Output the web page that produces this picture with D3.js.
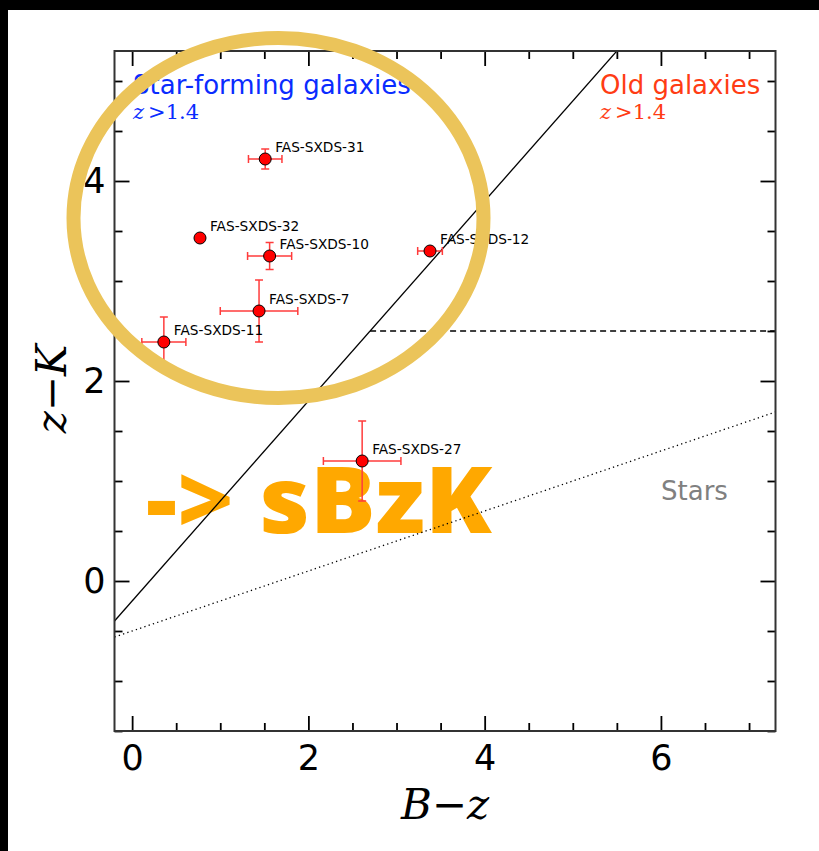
<!DOCTYPE html>
<html>
<head>
<meta charset="utf-8">
<script src="https://cdn.jsdelivr.net/npm/d3@7"></script>
<style>
  html, body { margin: 0; padding: 0; background: #000; overflow: hidden; }
  svg { display: block; }
</style>
</head>
<body>
<svg id="chart" width="819" height="851"></svg>
<script>
// Colour–colour diagram: z−K against B−z for the FAS-SXDS sources
const names  = ["FAS-SXDS-31", "FAS-SXDS-32", "FAS-SXDS-10", "FAS-SXDS-12", "FAS-SXDS-7", "FAS-SXDS-11", "FAS-SXDS-27"];
const bz     = [1.51, 0.77, 1.56, 3.38, 1.44, 0.36, 2.61];
const zk     = [4.22, 3.43, 3.25, 3.30, 2.70, 2.39, 1.20];
const bzErr  = [0.19, 0.00, 0.25, 0.14, 0.44, 0.25, 0.44];
const zkErr  = [0.10, 0.00, 0.135, 0.03, 0.31, 0.25, 0.40];

const xMajorTicks = [0, 2, 4, 6];
const yMajorTicks = [0, 2, 4];

// Selection lines: sBzK boundary, pBzK threshold, stellar locus
const bzkOffset   = -0.2;   // z−K = (B−z) − 0.2
const pbzkLevel   = 2.5;    // z−K = 2.5
const starSlope   = 0.3;    // z−K = 0.3 (B−z) − 0.5
const starOffset  = -0.5;

const svg = d3.select("#chart");
const W = 819, H = 851;

// white canvas inside the dark border (top and left edges)
svg.append("rect").attr("x", 8).attr("y", 10).attr("width", W).attr("height", H).attr("fill", "#fff");

const L = 114.5, R = 775.5, T = 51, B = 731;
const x = d3.scaleLinear().domain([-0.2, 7.3]).range([L, R]);
const y = d3.scaleLinear().domain([-1.5, 5.3]).range([B, T]);

svg.append("defs").append("clipPath").attr("id", "plotClip")
  .append("rect").attr("x", L).attr("y", T).attr("width", R - L).attr("height", B - T);

// big annotation text, sitting beneath the data layer
svg.append("text")
  .attr("x", 146).attr("y", 533)
  .attr("font-family", "'Open Sans', sans-serif")
  .attr("font-weight", 800)
  .attr("font-size", 92)
  .attr("textLength", 346).attr("lengthAdjust", "spacingAndGlyphs")
  .attr("fill", "#ffa800")
  .text("-> sBzK");

const plot = svg.append("g").attr("clip-path", "url(#plotClip)");

// sBzK diagonal
const xd = x.domain();
plot.append("line")
  .attr("x1", x(xd[0])).attr("y1", y(xd[0] + bzkOffset))
  .attr("x2", x(xd[1])).attr("y2", y(xd[1] + bzkOffset))
  .attr("stroke", "#000").attr("stroke-width", 1.3);

// pBzK horizontal threshold, starting where it meets the diagonal
plot.append("line")
  .attr("x1", x(pbzkLevel - bzkOffset)).attr("y1", y(pbzkLevel))
  .attr("x2", x(xd[1])).attr("y2", y(pbzkLevel))
  .attr("stroke", "#000").attr("stroke-width", 1.3)
  .attr("stroke-dasharray", "6,4");

// stellar locus
plot.append("line")
  .attr("x1", x(xd[0])).attr("y1", y(starSlope * xd[0] + starOffset))
  .attr("x2", x(xd[1])).attr("y2", y(starSlope * xd[1] + starOffset))
  .attr("stroke", "#000").attr("stroke-width", 1.3)
  .attr("stroke-dasharray", "1.3,3.2");

// region labels
const regionFont = "'DejaVu Sans', sans-serif";
const mathFont = "'DejaVu Serif', serif";
function redshiftCut(t) {
  t.append("tspan").attr("font-style", "italic").text("z");
  t.append("tspan").attr("dx", 4).text(">1.4");
}
svg.append("text").attr("x", 133).attr("y", 94)
  .attr("font-family", regionFont).attr("font-size", 26).attr("fill", "#0a2cff")
  .text("Star-forming galaxies");
svg.append("text").attr("x", 133).attr("y", 119)
  .attr("font-family", mathFont).attr("font-size", 21).attr("font-weight", 300).attr("fill", "#0a2cff")
  .call(redshiftCut);

svg.append("text").attr("x", 600).attr("y", 94)
  .attr("font-family", regionFont).attr("font-size", 26).attr("fill", "#ff3c14")
  .text("Old galaxies");
svg.append("text").attr("x", 600).attr("y", 119)
  .attr("font-family", mathFont).attr("font-size", 21).attr("font-weight", 300).attr("fill", "#ff3c14")
  .call(redshiftCut);

svg.append("text").attr("x", 661).attr("y", 500)
  .attr("font-family", regionFont).attr("font-size", 26).attr("fill", "#808080")
  .text("Stars");

// error bars
const pts = names.map((n, i) => ({ name: n, bx: bz[i], zy: zk[i], ex: bzErr[i], ey: zkErr[i] }));
const errCol = "#ff3b3b", cap = 4;
const eb = plot.append("g").attr("stroke", errCol).attr("stroke-width", 1.5).attr("fill", "none");
pts.filter(d => d.ex > 0 || d.ey > 0).forEach(d => {
  const g = eb.append("g");
  if (d.ex > 0) {
    g.append("line").attr("x1", x(d.bx - d.ex)).attr("x2", x(d.bx + d.ex)).attr("y1", y(d.zy)).attr("y2", y(d.zy));
    [d.bx - d.ex, d.bx + d.ex].forEach(v =>
      g.append("line").attr("x1", x(v)).attr("x2", x(v)).attr("y1", y(d.zy) - cap).attr("y2", y(d.zy) + cap));
  }
  if (d.ey > 0) {
    g.append("line").attr("x1", x(d.bx)).attr("x2", x(d.bx)).attr("y1", y(d.zy - d.ey)).attr("y2", y(d.zy + d.ey));
    [d.zy - d.ey, d.zy + d.ey].forEach(v =>
      g.append("line").attr("x1", x(d.bx) - cap).attr("x2", x(d.bx) + cap).attr("y1", y(v)).attr("y2", y(v)));
  }
});

// source markers
plot.selectAll("circle.src").data(pts).join("circle")
  .attr("class", "src")
  .attr("cx", d => x(d.bx)).attr("cy", d => y(d.zy)).attr("r", 6)
  .attr("fill", "#ff0000").attr("stroke", "#000").attr("stroke-width", 1);

// source names
svg.selectAll("text.src").data(pts).join("text")
  .attr("class", "src")
  .attr("x", d => x(d.bx) + 10).attr("y", d => y(d.zy) - 7)
  .attr("font-family", regionFont).attr("font-size", 13.7).attr("fill", "#000")
  .text(d => d.name);

// axes: ticks point inward on all four sides
const minorX = d3.range(0, 7.01, 0.5).filter(v => !xMajorTicks.includes(v));
const minorY = d3.range(-1.5, 5.31, 0.5).filter(v => !yMajorTicks.includes(v));
const tickFont = "'DejaVu Sans', sans-serif";

function styleAxis(g) {
  g.select(".domain").remove();
  g.selectAll(".tick line").attr("stroke", "#000").attr("stroke-width", 1.8);
  g.selectAll(".tick text").attr("font-family", tickFont).attr("font-size", 35).attr("fill", "#000");
}

svg.append("g").attr("transform", `translate(0,${B})`)
  .call(d3.axisBottom(x).tickValues(xMajorTicks).tickSize(-15).tickFormat(d3.format("d")))
  .call(styleAxis)
  .call(g => g.selectAll(".tick text").attr("dy", "0.71em").attr("y", 14));
svg.append("g").attr("transform", `translate(0,${B})`)
  .call(d3.axisBottom(x).tickValues(minorX).tickSize(-8).tickFormat(""))
  .call(styleAxis);
svg.append("g").attr("transform", `translate(0,${T})`)
  .call(d3.axisTop(x).tickValues(xMajorTicks).tickSize(-15).tickFormat(""))
  .call(styleAxis);
svg.append("g").attr("transform", `translate(0,${T})`)
  .call(d3.axisTop(x).tickValues(minorX).tickSize(-8).tickFormat(""))
  .call(styleAxis);

svg.append("g").attr("transform", `translate(${L},0)`)
  .call(d3.axisLeft(y).tickValues(yMajorTicks).tickSize(-15).tickFormat(d3.format("d")))
  .call(styleAxis)
  .call(g => g.selectAll(".tick text").attr("x", -9));
svg.append("g").attr("transform", `translate(${L},0)`)
  .call(d3.axisLeft(y).tickValues(minorY).tickSize(-8).tickFormat(""))
  .call(styleAxis);
svg.append("g").attr("transform", `translate(${R},0)`)
  .call(d3.axisRight(y).tickValues(yMajorTicks).tickSize(-15).tickFormat(""))
  .call(styleAxis);
svg.append("g").attr("transform", `translate(${R},0)`)
  .call(d3.axisRight(y).tickValues(minorY).tickSize(-8).tickFormat(""))
  .call(styleAxis);

// frame
svg.append("rect").attr("x", L).attr("y", T).attr("width", R - L).attr("height", B - T)
  .attr("fill", "none").attr("stroke", "#333").attr("stroke-width", 2);

// axis titles
svg.append("text").attr("x", 445).attr("y", 819).attr("text-anchor", "middle")
  .attr("font-family", mathFont).attr("font-size", 42).attr("font-weight", 300).attr("fill", "#000")
  .call(t => {
    t.append("tspan").attr("font-style", "italic").text("B");
    t.append("tspan").text("\u2212");
    t.append("tspan").attr("font-style", "italic").text("z");
  });
svg.append("text")
  .attr("transform", "translate(66,389) rotate(-90)").attr("text-anchor", "middle")
  .attr("font-family", mathFont).attr("font-size", 42).attr("font-weight", 300).attr("fill", "#000")
  .call(t => {
    t.append("tspan").attr("font-style", "italic").text("z");
    t.append("tspan").text("\u2212");
    t.append("tspan").attr("font-style", "italic").text("K");
  });

// highlight ring around the star-forming sources
svg.append("ellipse")
  .attr("cx", 278.5).attr("cy", 218).attr("rx", 205).attr("ry", 180)
  .attr("fill", "none").attr("stroke", "#ebc45a").attr("stroke-width", 14);
</script>
</body>
</html>
